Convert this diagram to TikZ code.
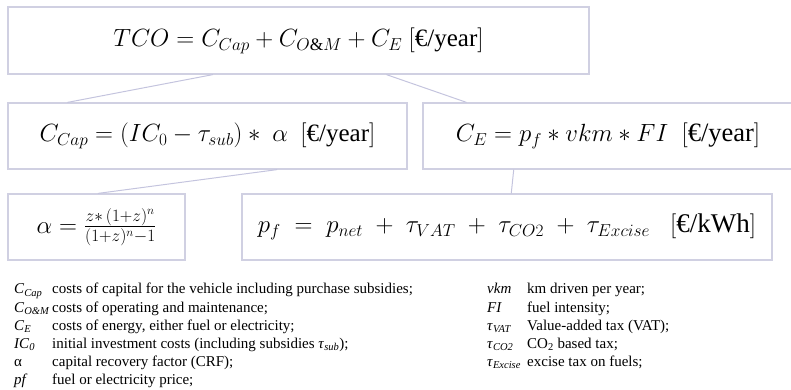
\documentclass[tikz,border=0pt]{standalone}
\usepackage{fontspec}
\usepackage{amsmath}
\usepackage{tikz}
\usetikzlibrary{positioning,calc}
\setmainfont{Liberation Serif}
\definecolor{boxline}{RGB}{208,208,226}
\definecolor{linkline}{RGB}{196,196,222}
\newcommand{\sym}[2]{\textit{#1}\textsubscript{\textit{#2}}}

\begin{document}
\begin{tikzpicture}[
  x=1pt,y=-1pt,
  font=\fontsize{25}{30}\selectfont,
  eqbox/.style={draw=boxline,line width=1.2pt,fill=white,minimum height=66pt,inner sep=0pt},
  link/.style={draw=linkline,line width=1pt},
  legend/.style={font=\fontsize{15}{18.2}\selectfont,inner sep=0pt,anchor=north west,align=left}
]
\useasboundingbox (0,0) rectangle (791,389);

% cost tree
\node[eqbox,minimum width=581pt,minimum height=67pt] (tco) at (298.5,40.5)
  {$TCO = C_{Cap} + C_{O\&M} + C_E\ [\text{€/year}]$};
\node[eqbox,minimum width=399pt] (ccap) at (207.5,136)
  {$C_{Cap} = (IC_0 - \tau_{sub}) *\ \alpha\ \ [\text{€/year}]$};
\node[eqbox,minimum width=370pt,font=\fontsize{26.5}{30}\selectfont] (ce) at (608,136)
  {$C_E = p_f * vkm * FI\ \ [\text{€/year}]$};
\node[eqbox,minimum width=177pt] (alpha) at (96.5,227)
  {$\alpha = \frac{z*\,(1+z)^n}{(1+z)^n-1}$};
\node[eqbox,minimum width=530pt,font=\fontsize{27}{30}\selectfont] (pf) at (507,227)
  {$p_f \;=\; p_{net} \;+\; \tau_{VAT} \;+\; \tau_{CO2} \;+\; \tau_{Excise}\ \ \ [\text{€/kWh}]$};

\draw[link] ($(tco.south west)!0.353!(tco.south east)$) -- ($(ccap.north west)!0.150!(ccap.north east)$);
\draw[link] ($(tco.south west)!0.651!(tco.south east)$) -- ($(ce.north west)!0.119!(ce.north east)$);
\draw[link] ($(ccap.south west)!0.674!(ccap.south east)$) -- ($(alpha.north west)!0.508!(alpha.north east)$);
\draw[link] ($(ce.south west)!0.246!(ce.south east)$) -- ($(pf.north west)!0.508!(pf.north east)$);

% legend
\node[legend] (legl) at (14,281) {\begin{tabular}{@{}p{38pt}@{}l@{}}
  \sym{C}{Cap} & costs of capital for the vehicle including purchase subsidies;\\
  \sym{C}{O\&M} & costs of operating and maintenance;\\
  \sym{C}{E} & costs of energy, either fuel or electricity;\\
  \sym{IC}{0} & initial investment costs (including subsidies \textit{τ}\textsubscript{\textit{sub}});\\
  α & capital recovery factor (CRF);\\
  \textit{pf} & fuel or electricity price;
\end{tabular}};
\node[legend] (legr) at (487,281) {\begin{tabular}{@{}p{40pt}@{}l@{}}
  \textit{vkm} & km driven per year;\\
  \textit{FI} & fuel intensity;\\
  \sym{τ}{VAT} & Value-added tax (VAT);\\
  \sym{τ}{CO2} & CO\textsubscript{2} based tax;\\
  \sym{τ}{Excise} & excise tax on fuels;
\end{tabular}};
\end{tikzpicture}
\end{document}
